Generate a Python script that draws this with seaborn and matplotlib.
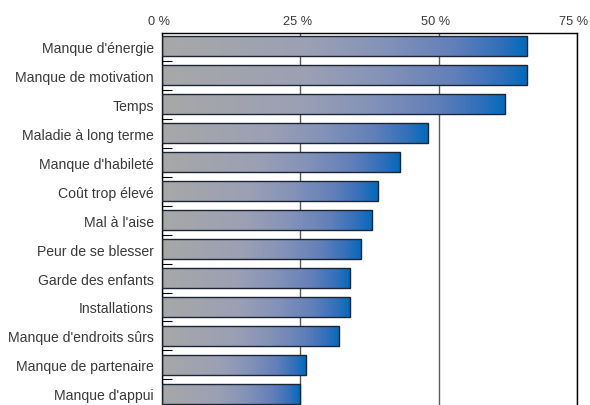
import matplotlib
matplotlib.use('Agg')
import matplotlib.pyplot as plt
import matplotlib.transforms as mtransforms
import seaborn as sns
import pandas as pd
import numpy as np
from matplotlib.colors import LinearSegmentedColormap
from matplotlib.patches import Shadow
from matplotlib.ticker import FixedLocator

categories = ["Manque d'énergie", "Manque de motivation", "Temps",
              "Maladie à long terme", "Manque d'habileté", "Coût trop élevé",
              "Mal à l'aise", "Peur de se blesser", "Garde des enfants",
              "Installations", "Manque d'endroits sûrs",
              "Manque de partenaire", "Manque d'appui"]
values = [66, 66, 62, 48, 43, 39, 38, 36, 34, 34, 32, 26, 25]
xticks = [0, 25, 50, 75]
xtick_labels = ["0 %", "25 %", "50 %", "75 %"]

sns.set_style('white')
plt.rcParams['font.family'] = ['Liberation Sans', 'DejaVu Sans']

fig = plt.figure(figsize=(5.9, 4.06), dpi=100)
ax = fig.add_axes([162 / 590, 0, 415 / 590, 372 / 406])
df = pd.DataFrame({'cat': categories, 'val': values})
sns.barplot(data=df, x='val', y='cat', orient='h', width=0.69, ax=ax,
            color='#888888', saturation=1)

cmap = LinearSegmentedColormap.from_list('g', [
    (0.0, '#a8a8a8'), (0.4, '#9ba0b4'), (0.6, '#8593b8'),
    (0.8, '#627fb9'), (0.93, '#2f6fba'), (1.0, '#006bbd')])
grad = np.linspace(0, 1, 256).reshape(1, -1)
for p in list(ax.patches):
    x0, y0 = p.get_x(), p.get_y()
    w, h = p.get_width(), p.get_height()
    sh = Shadow(p, 0.12, 0.02, facecolor='#b5b5b5', edgecolor='none', alpha=0.8)
    sh.set_zorder(1.5)
    ax.add_patch(sh)
    im = ax.imshow(grad, extent=[x0, x0 + w, y0 + h, y0], aspect='auto',
                   cmap=cmap, zorder=2, interpolation='bilinear')
    im.set_clip_path(p)
    p.set_facecolor('none')
    p.set_edgecolor('#1c2535')
    p.set_linewidth(1)
    p.set_zorder(3)

ax.set_xlim(0, 75)
ax.set_ylim(12.38, -0.45)
ax.set_xlabel('')
ax.set_ylabel('')

ax.xaxis.tick_top()
ax.set_xticks(xticks)
ax.set_xticklabels(xtick_labels)
ax.tick_params(axis='x', length=0, pad=4, labelsize=9.2, colors='#3a3a3a')
shift = mtransforms.ScaledTranslation(-3 / 100, 0, fig.dpi_scale_trans)
for lab in ax.get_xticklabels():
    lab.set_transform(lab.get_transform() + shift)
ax.grid(True, axis='x', color='#5a5a5a', linewidth=1)
ax.grid(False, axis='y')
ax.set_axisbelow(True)

ax.tick_params(axis='y', which='major', length=0, pad=6, labelsize=10.1,
               colors='#3a3a3a')
ax.yaxis.set_minor_locator(FixedLocator(np.arange(0.5, 12, 1)))
ax.tick_params(axis='y', which='minor', direction='in', length=7.5,
               width=0.8, color='black', left=True)

ax.spines['bottom'].set_visible(False)
for s in ['top', 'left', 'right']:
    ax.spines[s].set_visible(True)
    ax.spines[s].set_color('black')
    ax.spines[s].set_linewidth(1)

fig.savefig('out.png', dpi=100)
